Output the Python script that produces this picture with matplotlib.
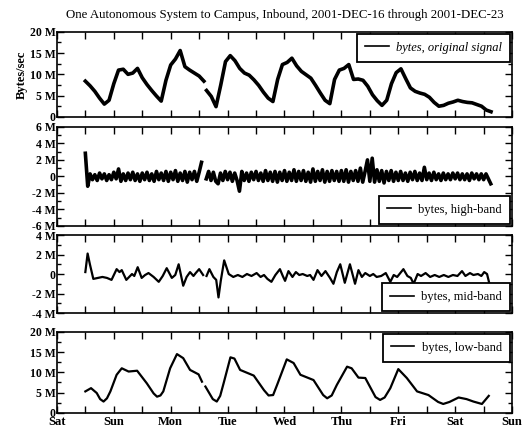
import numpy as np
import matplotlib
matplotlib.use("Agg")
import matplotlib.pyplot as plt
from matplotlib.ticker import MultipleLocator, FuncFormatter

plt.rcParams['font.family'] = ['Liberation Serif', 'DejaVu Serif']

nan = np.nan

# original signal, 2-hour samples (MB/s); two pieces around the data gap on Mon
orig_a_start = 0.5
orig_b_start = 2.63
orig_step = 1 / 12
orig_a = [8.4, 7.3, 6.0, 4.4, 3.0, 3.9, 7.8, 11.0, 11.2, 10.0, 10.3, 11.4,
          9.2, 7.6, 6.2, 4.9, 3.7, 8.6, 12.2, 13.6, 15.6, 11.8, 11.0, 10.3,
          9.6, 8.4]
orig_b = [6.2, 4.8, 2.4, 7.5, 13.0, 14.4, 13.2, 11.4, 10.3, 9.8,
          8.7, 7.4, 5.8, 4.4, 3.6, 8.8, 12.3, 12.8, 13.8, 12.0, 10.7, 9.9,
          9.1, 7.4, 5.6, 3.9, 3.1, 8.8, 11.0, 11.4, 12.3, 8.8, 8.9, 8.6,
          7.2, 5.2, 3.8, 2.7, 3.9, 7.8, 10.4, 11.3, 9.0, 6.8, 6.0, 5.6,
          5.3, 4.6, 3.4, 2.5, 2.7, 3.2, 3.5, 3.9, 3.6, 3.4, 3.3, 2.9,
          2.5, 1.6, 1.2]

# high-band, hourly samples starting Sat noon
high_start = 0.5
high_step = 1 / 24
high = [2.8, -1.2, 0.3, -0.4, 0.2, -0.5, 0.4, -0.3, 0.3, -0.5, 0.2, -0.4,
        0.5, -0.3, 0.9, -0.6, 0.3, -0.5, 0.4, -0.4, 0.5, -0.5, 0.3, -0.6,
        0.4, -0.4, 0.5, -0.5, 0.3, -0.6, 0.6, -0.4, 0.4, -0.5, 0.6, -0.6,
        0.5, -0.4, 0.7, -0.6, 0.4, -0.5, 0.6, -0.7, 0.5, -0.4, 0.6, -0.6,
        0.5, 1.7, nan, -0.3, 0.6, -0.5, 0.5, -0.6, -0.9, 0.4, -0.5, 0.6,
        -0.4, 0.5, -0.6, 0.4, -0.5, -1.8, 0.6, -0.5, 0.4, -0.6, 0.5, -0.4,
        0.6, -0.5, 0.4, -0.6, 0.7, -0.5, 0.5, -0.6, 0.6, -0.7, 0.5, -0.5,
        0.7, -0.6, 0.5, -0.5, 0.8, -0.6, 0.6, -0.5, 0.7, -0.6, 0.5, -0.7,
        0.9, -0.6, 0.6, -0.5, 0.8, -0.7, 0.6, -0.6, 0.7, -0.5, 0.6, -0.6,
        0.7, -0.6, 0.8, -0.7, 0.6, -0.5, 0.7, -0.6, 1.0, -0.7, 0.6, 2.0,
        -0.6, 2.2, -0.7, 0.8, -0.6, 0.7, -0.8, 0.6, -0.5, 0.7, -0.6, 0.5,
        -0.5, 0.6, -0.5, 0.4, -0.6, 0.5, -0.4, 0.6, -0.5, 0.4, -0.5, 1.1,
        -0.4, 0.4, -0.5, 0.5, -0.4, 0.3, -0.5, 0.4, -0.4, 0.3, -0.4, 0.4,
        -0.3, 0.4, -0.4, 0.3, -0.4, 0.3, -0.5, 0.4, -0.3, 0.3, -0.4, 0.3,
        -0.4, 0.3, -0.3, -0.9]

# mid-band, turning points (day, MB/s)
mid_day = [0.50, 0.54, 0.58, 0.64, 0.72, 0.80, 0.88, 0.96, 1.05, 1.10, 1.14, 1.22,
           1.32, 1.36, 1.42, 1.49, 1.55, 1.61, 1.70, 1.79, 1.86, 1.93, 2.02, 2.08,
           2.14, 2.22, 2.28, 2.34, 2.40, 2.44, 2.50, 2.57, 2.60, 2.63, 2.68, 2.75,
           2.80, 2.84, 2.88, 2.94, 3.02, 3.10, 3.18, 3.26, 3.34, 3.42, 3.51, 3.58,
           3.64, 3.70, 3.77, 3.84, 3.92, 3.97, 4.01, 4.07, 4.14, 4.20, 4.26, 4.32,
           4.40, 4.45, 4.51, 4.58, 4.65, 4.72, 4.80, 4.86, 4.92, 4.98, 5.06, 5.15,
           5.24, 5.30, 5.36, 5.42, 5.50, 5.56, 5.62, 5.70, 5.78, 5.86, 5.92, 5.98,
           6.09, 6.16, 6.22, 6.27, 6.34, 6.40, 6.48, 6.56, 6.64, 6.72, 6.80, 6.88,
           6.96, 7.04, 7.12, 7.18, 7.26, 7.32, 7.40, 7.46, 7.51, 7.56, 7.61]
mid_val = [0.2, 2.1, 1.0, -0.5, -0.4, -0.3, -0.4, -0.6, 0.5, 0.2, 0.4, -0.6,
           0.0, -0.2, 0.7, -0.4, -0.1, 0.1, -0.3, -0.8, -0.2, 0.6, -0.4, -0.1,
           1.0, -1.2, -0.3, 0.2, -0.2, 0.1, 0.5, -0.1, nan, -0.2, 0.5, -0.3,
           -0.6, -2.4, -0.7, 1.4, 0.0, -0.3, -0.1, -0.3, 0.0, -0.2, 0.1, -0.3,
           -0.1, -0.5, -0.8, -0.1, 0.5, -0.2, -0.7, 0.3, -0.3, 0.2, -0.1, 0.0,
           -0.2, -0.1, -0.6, 0.4, -0.2, 0.3, -0.4, -1.0, 0.2, 1.0, -0.9, 1.0,
           -1.0, 0.4, -0.3, 0.1, -0.2, 0.0, -0.3, -0.2, 0.1, -0.8, -0.1, -0.3,
           0.5, -0.2, -0.4, -1.0, 0.0, -0.2, 0.1, -0.3, -0.1, -0.3, -0.1, -0.3,
           -0.1, -0.2, 0.3, -0.2, 0.1, -0.1, 0.0, -0.2, 0.2, 0.0, -1.2]

# low-band (day, MB/s)
low_day = [0.50, 0.60, 0.70, 0.76, 0.82, 0.88, 0.94, 1.05, 1.14, 1.26, 1.41, 1.58,
           1.70, 1.76, 1.82, 1.87, 1.99, 2.11, 2.22, 2.34, 2.49, 2.55, 2.58, 2.61,
           2.74, 2.81, 2.87, 2.93, 3.05, 3.12, 3.22, 3.46, 3.64, 3.72, 3.80, 3.87,
           4.04, 4.16, 4.28, 4.51, 4.68, 4.75, 4.83, 4.92, 5.10, 5.18, 5.30, 5.42,
           5.60, 5.68, 5.76, 5.86, 6.00, 6.15, 6.33, 6.53, 6.70, 6.79, 6.90, 7.06,
           7.20, 7.32, 7.47, 7.59]
low_val = [5.3, 6.1, 4.9, 3.4, 2.8, 3.6, 5.3, 9.4, 11.0, 10.2, 10.4, 7.3,
           4.8, 4.0, 4.3, 5.3, 11.0, 14.5, 13.5, 10.6, 9.5, 7.7, nan, 6.5,
           3.4, 2.8, 4.2, 7.3, 13.7, 13.4, 10.6, 9.2, 5.6, 4.3, 4.4, 6.9,
           13.2, 12.3, 9.4, 8.1, 4.4, 3.6, 4.3, 6.9, 11.4, 11.0, 8.7, 8.6,
           3.9, 3.2, 3.8, 6.1, 10.8, 8.6, 5.3, 4.4, 2.7, 2.2, 2.7, 3.8,
           3.4, 2.8, 2.2, 4.2]

day_labels = ['Sat', 'Sun', 'Mon', 'Tue', 'Wed', 'Thu', 'Fri', 'Sat', 'Sun']

orig_day = np.concatenate([orig_a_start + orig_step * np.arange(len(orig_a)), [nan],
                           orig_b_start + orig_step * np.arange(len(orig_b))])
orig = orig_a + [nan] + orig_b
high_day = high_start + high_step * np.arange(len(high))

fig = plt.figure(figsize=(5.22, 4.36), dpi=100)
left, width = 0.109, 0.872
boxes = [(0.732, 0.195), (0.482, 0.227), (0.282, 0.179), (0.053, 0.186)]
axes = [fig.add_axes([left, b, width, h]) for b, h in boxes]


def mfmt(v, pos):
    if abs(v) < 1e-9:
        return '0'
    return '%d M' % round(v)


series = [
    (orig_day, orig, 'bytes, original signal', 2.6, (0, 20), 5, 2.5, 'upper right', 'italic'),
    (high_day, high, 'bytes, high-band', 2.6, (-6, 6), 2, 1, 'lower right', 'normal'),
    (mid_day, mid_val, 'bytes, mid-band', 1.6, (-4, 4), 2, 1, 'lower right', 'normal'),
    (low_day, low_val, 'bytes, low-band', 1.6, (0, 20), 5, 2.5, 'upper right', 'normal'),
]

for ax, (xd, yd, lab, lw, ylim, major, minor, loc, style) in zip(axes, series):
    ax.plot(xd, yd, color='black', lw=lw, label=lab)
    ax.set_xlim(0, 8)
    ax.set_ylim(*ylim)
    ax.xaxis.set_major_locator(MultipleLocator(1))
    ax.xaxis.set_minor_locator(MultipleLocator(0.5))
    ax.yaxis.set_major_locator(MultipleLocator(major))
    ax.yaxis.set_minor_locator(MultipleLocator(minor))
    ax.yaxis.set_major_formatter(FuncFormatter(mfmt))
    ax.tick_params(which='both', direction='in', top=True, right=True, width=1.0)
    ax.tick_params(which='major', length=5)
    ax.tick_params(which='minor', length=5)
    ax.tick_params(axis='y', which='minor', length=3)
    ax.tick_params(axis='y', labelsize=8.5, pad=1)
    for lbl in ax.get_yticklabels():
        lbl.set_fontweight('bold')
    for s in ax.spines.values():
        s.set_linewidth(1.2)
    leg = ax.legend(loc=loc, fancybox=False, edgecolor='black', framealpha=1,
                    handlelength=1.9, handletextpad=0.6, borderpad=0.65,
                    borderaxespad=0.15, prop={'size': 9, 'style': style})
    leg.get_frame().set_linewidth(1.3)
    for h in leg.get_lines():
        h.set_linewidth(1.2)
    if ax is not axes[-1]:
        ax.set_xticklabels([])

axes[-1].set_xticks(range(len(day_labels)))
axes[-1].set_xticklabels(day_labels, fontsize=9, fontweight='bold')
axes[-1].tick_params(axis='x', pad=2)

axes[0].set_ylabel('Bytes/sec', fontsize=9, fontweight='bold', labelpad=1)
axes[0].set_title('One Autonomous System to Campus, Inbound, 2001-DEC-16 through 2001-DEC-23',
                  fontsize=9.3, pad=10)

fig.savefig('out.png', dpi=100)
